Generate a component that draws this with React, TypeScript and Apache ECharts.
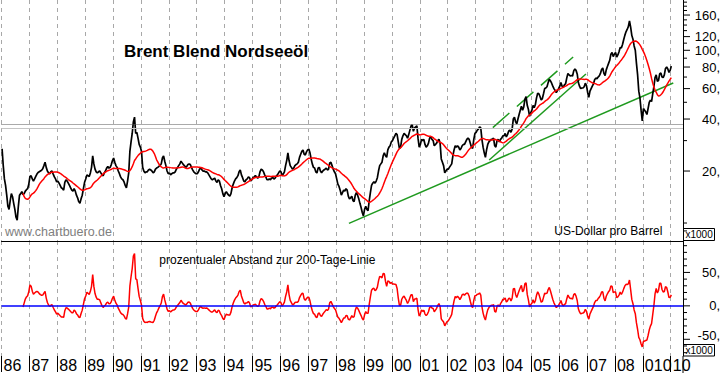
import React, { useEffect, useRef } from "react";
import * as echarts from "echarts";

// ---- Brent price (USD/barrel), two readings per month ----
const p1986 = [26.9, 21.5, 18.0, 16.5, 14.5, 12.5, 12.0, 13.5, 14.8, 14.2, 13.0, 12.0, 10.8, 10.4, 12.5, 14.5, 14.8, 15.2, 14.6, 14.8, 15.3, 15.6, 15.8, 16.8];
const p1987 = [18.6, 18.8, 18.0, 17.5, 18.0, 18.6, 19.2, 19.6, 19.8, 20.0, 20.2, 20.6, 21.5, 22.5, 21.0, 20.0, 19.5, 19.3, 19.8, 20.0, 19.2, 18.5, 18.0, 17.3];
const p1988 = [17.5, 17.0, 16.5, 16.0, 15.8, 15.5, 17.2, 17.8, 17.5, 17.0, 16.5, 16.0, 15.5, 15.3, 15.8, 15.3, 14.5, 14.0, 13.3, 13.0, 13.8, 14.5, 15.8, 17.2];
const p1989 = [18.0, 19.0, 18.8, 18.6, 19.5, 21.0, 24.5, 22.0, 20.5, 19.8, 19.5, 19.8, 20.0, 19.5, 19.0, 18.8, 19.5, 20.0, 20.8, 21.2, 20.8, 21.0, 21.8, 23.0];
const p1990 = [23.8, 22.5, 21.5, 21.0, 20.0, 19.3, 18.5, 18.0, 17.8, 17.3, 16.5, 16.0, 17.5, 19.5, 26.0, 29.5, 33.0, 38.5, 41.0, 33.0, 33.5, 31.0, 28.5, 27.5];
const p1991 = [26.0, 21.0, 20.0, 19.5, 19.8, 19.8, 20.3, 20.5, 20.3, 20.0, 19.5, 19.8, 20.5, 20.8, 21.0, 21.3, 21.5, 22.0, 23.8, 24.5, 22.8, 21.5, 20.0, 19.3];
const p1992 = [19.5, 19.0, 19.3, 19.5, 19.5, 19.8, 20.5, 21.0, 21.5, 22.0, 22.8, 22.3, 21.8, 21.5, 21.0, 21.3, 21.8, 22.0, 21.8, 21.0, 20.3, 19.8, 19.5, 19.3];
const p1993 = [19.3, 19.8, 20.5, 20.8, 20.3, 20.0, 20.0, 19.8, 19.8, 19.5, 19.0, 18.5, 18.0, 17.8, 18.0, 18.2, 17.5, 17.2, 17.8, 17.5, 16.5, 15.8, 14.8, 14.2];
const p1994 = [14.8, 15.2, 14.8, 14.5, 14.3, 14.8, 16.0, 16.8, 17.5, 18.0, 18.3, 18.8, 19.8, 20.3, 19.0, 18.3, 17.5, 17.3, 17.8, 18.0, 18.5, 18.3, 17.5, 17.8];
const p1995 = [18.3, 18.5, 18.8, 18.5, 18.2, 18.5, 19.8, 20.5, 20.3, 19.8, 19.0, 18.5, 17.8, 17.8, 18.0, 17.8, 18.2, 18.3, 18.0, 18.2, 18.7, 19.0, 19.5, 20.0];
const p1996 = [19.8, 18.8, 19.2, 19.8, 21.5, 23.0, 25.5, 23.0, 21.5, 21.0, 20.5, 20.8, 21.5, 21.8, 22.0, 22.5, 24.0, 25.0, 26.0, 26.5, 25.0, 24.8, 25.8, 26.5];
const p1997 = [26.8, 25.5, 23.5, 22.0, 21.0, 20.8, 19.8, 19.5, 20.8, 21.0, 20.0, 19.5, 20.0, 20.3, 20.5, 20.8, 20.3, 20.5, 22.3, 22.5, 21.5, 20.5, 19.8, 19.3];
const p1998 = [18.0, 16.8, 16.3, 15.5, 14.5, 15.0, 15.5, 15.3, 15.8, 15.5, 14.3, 13.8, 14.0, 14.3, 13.5, 13.3, 14.5, 15.0, 14.5, 13.8, 13.0, 12.3, 11.5, 11.0];
const p1999 = [12.0, 12.5, 12.0, 11.8, 13.5, 15.0, 16.5, 17.0, 17.3, 17.0, 17.5, 18.3, 20.0, 21.5, 22.0, 22.5, 24.5, 25.5, 24.5, 24.0, 26.5, 27.5, 28.0, 29.5];
const p2000 = [30.0, 31.0, 32.0, 33.0, 32.5, 29.5, 27.0, 27.5, 30.5, 32.0, 33.0, 32.5, 32.0, 31.0, 32.5, 34.5, 36.5, 37.0, 34.0, 35.5, 36.0, 36.5, 31.0, 27.5];
const p2001 = [28.5, 30.5, 30.0, 30.5, 28.5, 27.5, 28.0, 29.0, 31.0, 31.5, 30.5, 30.0, 28.0, 28.5, 29.0, 30.0, 30.5, 29.0, 23.5, 22.5, 21.5, 19.5, 20.0, 20.5];
const p2002 = [20.5, 21.0, 21.5, 22.0, 24.5, 26.5, 28.0, 27.5, 28.0, 27.5, 26.5, 27.0, 28.0, 28.5, 28.5, 29.5, 30.5, 31.0, 30.5, 29.0, 27.5, 27.0, 30.5, 33.0];
const p2003 = [33.5, 34.5, 35.0, 36.0, 35.5, 30.5, 27.5, 25.5, 24.0, 26.5, 28.5, 29.5, 30.0, 30.5, 30.5, 31.0, 28.0, 27.5, 30.0, 30.5, 29.5, 30.5, 31.0, 32.0];
const p2004 = [32.0, 33.0, 31.5, 32.5, 34.0, 34.5, 33.5, 35.0, 40.0, 41.0, 38.5, 37.5, 40.0, 42.5, 45.0, 47.5, 45.0, 47.0, 52.0, 54.0, 48.0, 45.5, 41.5, 43.5];
const p2005 = [45.0, 48.0, 46.5, 48.5, 53.0, 56.5, 56.0, 54.0, 51.5, 52.5, 56.0, 60.0, 60.5, 61.5, 65.0, 68.0, 66.5, 64.5, 62.0, 60.0, 58.5, 57.0, 58.5, 60.0];
const p2006 = [62.0, 65.0, 62.0, 61.0, 63.0, 64.0, 69.0, 73.5, 72.0, 71.0, 71.5, 71.0, 76.0, 78.0, 76.5, 73.0, 65.0, 62.0, 60.0, 60.5, 60.5, 61.5, 64.5, 62.5];
const p2007 = [57.0, 53.5, 58.0, 60.0, 62.0, 64.0, 67.5, 69.0, 68.5, 70.0, 71.0, 73.5, 77.5, 79.0, 73.5, 71.5, 77.0, 80.5, 84.0, 87.5, 95.0, 97.0, 92.0, 95.0];
const p2008 = [97.0, 91.5, 94.0, 98.0, 104.0, 103.0, 108.0, 115.0, 122.0, 128.0, 132.0, 137.0, 148.0, 136.0, 122.0, 116.0, 106.0, 100.0, 84.0, 72.0, 58.0, 53.0, 45.0, 39.0];
const p2009 = [46.0, 45.0, 44.0, 42.5, 46.0, 50.0, 51.5, 50.5, 56.0, 61.5, 69.5, 72.0, 66.0, 67.0, 73.0, 74.0, 70.0, 69.5, 72.0, 78.5, 80.0, 78.0, 74.5, 76.5];
const p2010 = [81.0];

const priceByYear = [p1986, p1987, p1988, p1989, p1990, p1991, p1992, p1993, p1994, p1995, p1996, p1997, p1998, p1999, p2000, p2001, p2002, p2003, p2004, p2005, p2006, p2007, p2008, p2009, p2010];

const START_YEAR = 1986;
const STEPS_PER_YEAR = 24;
const MA_WINDOW = 19; // ~200 trading days in half-month steps

// ---- axis texts / ticks ----
const yearLabels = ["86", "87", "88", "89", "90", "91", "92", "93", "94", "95", "96", "97", "98", "99", "00", "01", "02", "03", "04", "05", "06", "07", "08", "010", "10"];
const mainTickValues = [9, 10, 20, 30, 40, 50, 60, 70, 80, 90, 100, 110, 120, 130, 140, 150, 160, 170, 180, 190];
const mainLabelValues = [20, 40, 60, 80, 100, 120, 160];
const mainLabelTexts = ["20,", "40,", "60,", "80,", "100,", "120,", "160,"];
const lowerTickValues = [-70, -60, -50, -40, -30, -20, -10, 0, 10, 20, 30, 40, 50, 60, 70, 80, 90];
const lowerLabelValues = [-50, 0, 50];
const lowerLabelTexts = ["-50,", "0,", "50,"];

// ---- drawn trend lines / levels (year, price) ----
const longTrend = [[1998.46, 9.96], [2010.09, 64.7]];
const steepTrend = [[2003.49, 23.15], [2006.96, 72.9]];
const channelTrend = [[2003.62, 35.7], [2006.5, 91.4]];
const resistanceLevels = [37.2, 35.5];

const X_MIN = 1986;
const X_MAX = 2010.44;
const PRICE_MIN = 7.87;
const PRICE_MAX = 195.5;
const OSC_MIN = -75;
const OSC_MAX = 97;

const FONT = '"Liberation Sans", Arial, Helvetica, sans-serif';
const NARROW_FONT = '"Liberation Sans Narrow", "Liberation Sans", Arial, sans-serif';

function buildOption() {
  const prices: number[] = ([] as number[]).concat(...priceByYear);
  const times = prices.map((_, i) => START_YEAR + (i + 0.5) / STEPS_PER_YEAR);
  const priceData = prices.map((v, i) => [times[i], v]);
  const maData: number[][] = [];
  const oscData: number[][] = [];
  for (let i = MA_WINDOW - 1; i < prices.length; i++) {
    let s = 0;
    for (let j = i - MA_WINDOW + 1; j <= i; j++) s += prices[j];
    const m = s / MA_WINDOW;
    maData.push([times[i], m]);
    oscData.push([times[i], (prices[i] / m - 1) * 100]);
  }

  const tickSeries = (
    xIdx: number,
    yIdx: number,
    values: number[],
    labelValues: number[],
    labelTexts: string[],
    lowestLabelShift: number
  ) => ({
    type: "custom",
    xAxisIndex: xIdx,
    yAxisIndex: yIdx,
    clip: false,
    silent: true,
    z: 10,
    data: values.map((v) => [X_MAX, v]),
    renderItem: (params: any, api: any) => {
      const v = values[params.dataIndex];
      const p = api.coord([X_MAX, v]);
      const li = labelValues.indexOf(v);
      const major = li >= 0;
      const children: any[] = [
        {
          type: "line",
          shape: { x1: p[0], y1: p[1], x2: p[0] + (major ? 7 : 4), y2: p[1] },
          style: { stroke: "#000", lineWidth: 1 },
        },
      ];
      if (major) {
        children.push({
          type: "text",
          x: p[0] + 37,
          y: p[1] + (li === 0 ? lowestLabelShift : 0),
          style: { text: labelTexts[li], fill: "#000", fontSize: 13, fontFamily: FONT, align: "right", verticalAlign: "middle" },
        });
      }
      return { type: "group", children };
    },
  });

  const gridLine = { show: true, lineStyle: { color: "#a8a8a8", type: [4, 4], width: 1 } };
  const noLabel = { show: false };

  return {
    animation: false,
    backgroundColor: "#fff",
    grid: [
      { left: 1.5, right: 40, top: 0, height: 241 },
      { left: 1.5, right: 40, top: 241, height: 115 },
    ],
    xAxis: [
      {
        gridIndex: 0, type: "value", min: X_MIN, max: X_MAX, interval: 1,
        axisLine: { show: true, onZero: false, lineStyle: { color: "#000", width: 1 } },
        axisTick: { show: false }, axisLabel: noLabel, splitLine: gridLine,
      },
      {
        gridIndex: 1, type: "value", min: X_MIN, max: X_MAX, interval: 1,
        axisLine: { show: false, onZero: false },
        axisTick: { show: true, length: 16, lineStyle: { color: "#000", width: 1 } },
        axisLabel: {
          show: true, showMaxLabel: false, align: "left", verticalAlign: "middle", margin: 9,
          padding: [0, 0, 0, 2], fontSize: 16, fontFamily: NARROW_FONT, color: "#000",
          formatter: (v: number) => {
            const r = Math.round(v);
            if (Math.abs(v - r) > 1e-6) return "";
            return yearLabels[r - START_YEAR] || "";
          },
        },
        splitLine: gridLine,
      },
    ],
    yAxis: [
      {
        gridIndex: 0, type: "log", logBase: 10, min: PRICE_MIN, max: PRICE_MAX, position: "right",
        axisLine: { show: true, onZero: false, lineStyle: { color: "#000", width: 1 } },
        axisTick: { show: false }, axisLabel: noLabel, splitLine: { show: false }, minorTick: { show: false },
      },
      {
        gridIndex: 1, type: "value", min: OSC_MIN, max: OSC_MAX, position: "right",
        axisLine: { show: true, onZero: false, lineStyle: { color: "#000", width: 1 } },
        axisTick: { show: false }, axisLabel: noLabel, splitLine: { show: false },
      },
    ],
    series: [
      {
        type: "line", xAxisIndex: 0, yAxisIndex: 0, data: longTrend, symbol: "none", silent: true, z: 2,
        lineStyle: { color: "#1f9a1f", width: 1.5 },
        markLine: {
          silent: true, symbol: ["none", "none"], label: { show: false }, animation: false,
          data: [
            { yAxis: resistanceLevels[0], lineStyle: { color: "#555", type: [1, 1], width: 1 } },
            { yAxis: resistanceLevels[1], lineStyle: { color: "#c4c4c4", type: "solid", width: 1.2 } },
          ],
        },
      },
      {
        type: "line", xAxisIndex: 0, yAxisIndex: 0, data: steepTrend, symbol: "none", silent: true, z: 2,
        lineStyle: { color: "#1f9a1f", width: 1.5 },
      },
      {
        type: "line", xAxisIndex: 0, yAxisIndex: 0, data: channelTrend, symbol: "none", silent: true, z: 2,
        lineStyle: { color: "#1f9a1f", width: 1.5, type: [22, 10] },
      },
      {
        type: "line", xAxisIndex: 0, yAxisIndex: 0, data: priceData, symbol: "none", silent: true, z: 3,
        lineStyle: { color: "#000", width: 1.7 },
      },
      {
        type: "line", xAxisIndex: 0, yAxisIndex: 0, data: maData, symbol: "none", silent: true, z: 4,
        lineStyle: { color: "#ff0000", width: 1.5 },
      },
      {
        type: "line", xAxisIndex: 1, yAxisIndex: 1, data: oscData, symbol: "none", silent: true, z: 4,
        lineStyle: { color: "#ff0000", width: 1.5 },
        markLine: {
          silent: true, symbol: ["none", "none"], label: { show: false }, animation: false,
          data: [{ yAxis: 0, lineStyle: { color: "#0000ff", type: "solid", width: 1.5 } }],
        },
      },
      tickSeries(0, 0, mainTickValues, mainLabelValues, mainLabelTexts, 0),
      tickSeries(1, 1, lowerTickValues, lowerLabelValues, lowerLabelTexts, -4),
    ],
    graphic: [
      {
        type: "text", x: 124, y: 51.7, z: 50,
        style: { text: "Brent Blend Nordseeöl", fill: "#000", fontSize: 17, fontWeight: "bold", fontFamily: FONT, align: "left", verticalAlign: "middle" },
      },
      {
        type: "text", x: 5, y: 232, z: 50,
        style: { text: "www.chartbuero.de", fill: "#808080", fontSize: 12.5, fontFamily: FONT, align: "left", verticalAlign: "middle" },
      },
      {
        type: "text", x: 662.3, y: 231.2, z: 50,
        style: { text: "US-Dollar pro Barrel", fill: "#000", fontSize: 12, fontFamily: FONT, align: "right", verticalAlign: "middle" },
      },
      {
        type: "text", x: 159.3, y: 259.7, z: 50,
        style: { text: "prozentualer Abstand zur 200-Tage-Linie", fill: "#000", fontSize: 12, fontFamily: FONT, align: "left", verticalAlign: "middle" },
      },
      {
        type: "line", z: 50, shape: { x1: 683, y1: 356, x2: 683, y2: 373 }, style: { stroke: "#000", lineWidth: 1 },
      },
      {
        type: "group", z: 100,
        children: [
          { type: "rect", shape: { x: 683.5, y: 228.5, width: 31, height: 12 }, style: { fill: "#fff", stroke: "#000", lineWidth: 1 } },
          { type: "text", x: 685.5, y: 234.8, style: { text: "x1000", fill: "#000", fontSize: 10, fontFamily: FONT, verticalAlign: "middle" } },
        ],
      },
      {
        type: "group", z: 100,
        children: [
          { type: "rect", shape: { x: 683.5, y: 344.5, width: 31, height: 11.5 }, style: { fill: "#fff", stroke: "#000", lineWidth: 1 } },
          { type: "text", x: 685.5, y: 350.6, style: { text: "x1000", fill: "#000", fontSize: 10, fontFamily: FONT, verticalAlign: "middle" } },
        ],
      },
    ],
  };
}

export default function App() {
  const ref = useRef<HTMLDivElement | null>(null);
  useEffect(() => {
    if (!ref.current) return;
    const chart = echarts.init(ref.current, null, { renderer: "svg" });
    chart.setOption(buildOption() as any);
    return () => chart.dispose();
  }, []);
  return (
    <div
      ref={ref}
      style={{ position: "absolute", left: 0, top: 0, width: 723, height: 373, background: "#fff" }}
    />
  );
}
